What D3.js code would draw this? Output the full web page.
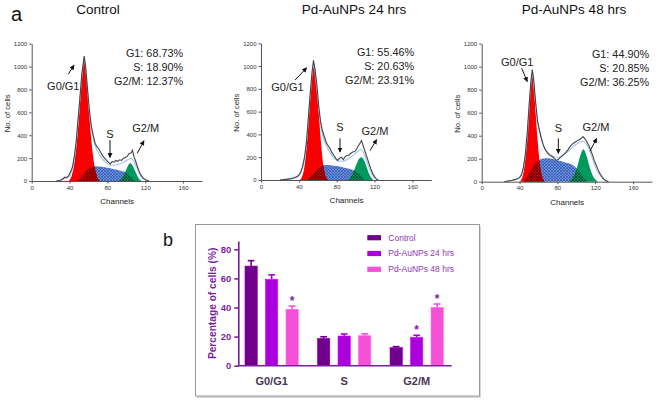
<!DOCTYPE html>
<html lang="en">
<head>
<meta charset="UTF-8">
<title>Cell cycle analysis</title>
<style>
    body, html {
        margin: 0;
        padding: 0;
        background: #ffffff;
        overflow: hidden;
    }
    svg {
        font-family: "Liberation Sans", Arial, sans-serif;
    }
    .hist .tick text {
        font-size: 6px;
        fill: #333;
    }
    .hist .domain, .hist .tick line {
        stroke: #555;
    }
    .stat {
        font-size: 10.8px;
        fill: #222;
        text-anchor: end;
    }
    .note {
        font-size: 11px;
        fill: #222;
        text-anchor: middle;
    }
    .bars .tick text {
        font-size: 9.5px;
        font-weight: bold;
        fill: #7b1fa2;
    }
    .bars .domain, .bars .tick line {
        stroke: #7b1fa2;
        stroke-width: 1.6px;
    }
</style>
</head>
<body>
<div id="chart"></div>
<script src="https://cdn.jsdelivr.net/npm/d3@7"></script>
<script>
// ---- panel a: histogram data (channel, number of cells) ----
const channelTicks = [0, 40, 80, 120, 160];
const countTicks = [0, 200, 400, 600, 800, 1000, 1200];
const panelTitles = ["Control", "Pd-AuNPs 24 hrs", "Pd-AuNPs 48 hrs"];
const g1Text = ["G1: 68.73%", "G1: 55.46%", "G1: 44.90%"];
const sText = ["S: 18.90%", "S: 20.63%", "S: 20.85%"];
const g2Text = ["G2/M: 12.37%", "G2/M: 23.91%", "G2/M: 36.25%"];

const ctrlG1 = [[39,0],[42,40],[45,150],[48,360],[50.5,620],[53,900],[55.5,1070],[58,900],[60.5,620],[63,360],[66,150],[69,40],[72,0]];
const ctrlS = [[48,0],[52,30],[56,70],[60,105],[64,125],[68,130],[74,125],[80,115],[86,105],[92,95],[98,80],[102,60],[106,30],[110,0]];
const ctrlG2 = [[92,0],[95,20],[98,60],[101,120],[104,155],[107,130],[110,75],[113,25],[116,0]];
const ctrlTotal = [[26,0],[30,5],[33,20],[35,35],[37,30],[39,45],[41,80],[43,120],[45,210],[47,340],[49,540],[51,730],[53,940],[55.5,1092],[57,1000],[59,800],[61,620],[63,480],[65,400],[67,330],[69,300],[71,280],[73,250],[75,220],[77,200],[79,180],[81,165],[83,150],[85,170],[87,165],[89,180],[91,172],[93,185],[95,180],[97,200],[99,205],[101,215],[103,240],[105,245],[106.5,268],[108,215],[110,170],[112,120],[114,75],[116,45],[118,25],[121,8],[124,0]];
const ctrlFit = [[26,0],[32,10],[36,25],[40,45],[43,110],[46,270],[49,520],[52,820],[55.5,1060],[58,900],[61,600],[64,420],[67,310],[70,255],[74,200],[78,165],[82,140],[86,138],[90,142],[94,152],[98,168],[102,188],[105,198],[108,172],[111,120],[114,65],[117,28],[120,8],[123,0]];

const h24G1 = [[41,0],[43.5,30],[46,120],[48.5,320],[51,600],[53.5,870],[56,995],[58.5,870],[61,600],[63.5,320],[66,120],[68.5,30],[71,0]];
const h24S = [[48,0],[52,25],[56,60],[60,95],[64,120],[68,132],[74,130],[80,122],[86,112],[92,100],[98,85],[102,65],[106,35],[110,0]];
const h24G2 = [[92,0],[95,25],[98,75],[101,140],[103.5,185],[106,200],[108.5,180],[111,130],[114,60],[117,15],[119,0]];
const h24Total = [[20,0],[24,4],[28,8],[32,12],[35,20],[38,30],[40,45],[42,70],[44,120],[46,200],[48,330],[50,540],[52,760],[54,950],[55.5,1050],[57,980],[59,840],[61,650],[63,510],[65,430],[67,380],[69,330],[71,300],[73,275],[75,240],[77,215],[79,190],[81,172],[83,190],[85,200],[87,180],[89,205],[91,215],[93,220],[95,235],[97,245],[99,250],[101,270],[103,300],[104.5,320],[106.3,345],[108,300],[110,250],[112,200],[114,150],[116,100],[118,60],[120,30],[122,10],[124,0]];
const h24Fit = [[20,0],[28,5],[35,15],[40,35],[44,110],[48,320],[52,740],[55.5,1010],[59,800],[62,560],[65,400],[68,320],[71,270],[74,225],[78,185],[82,165],[86,165],[90,175],[94,195],[98,220],[102,250],[105,268],[108,245],[111,185],[114,115],[117,55],[120,18],[123,0]];

const h48G1 = [[40,0],[42.5,30],[45,120],[47.5,320],[50,600],[52,830],[53.5,925],[55,830],[57,600],[59.5,320],[62,120],[64.5,30],[67,0]];
const h48S = [[44,0],[48,40],[52,100],[56,150],[60,185],[64,200],[70,203],[76,195],[82,182],[88,168],[94,155],[100,120],[104,75],[108,30],[112,0]];
const h48G2 = [[92,0],[95,20],[98,60],[101,130],[104,220],[107.5,282],[111,220],[114,130],[117,60],[120,20],[123,0]];
const h48Total = [[24,0],[28,6],[32,12],[36,20],[40,35],[42,60],[44,120],[46,230],[48,410],[50,650],[52,870],[53.5,975],[55,885],[57,690],[59,530],[61,450],[63,380],[65,320],[67,280],[69,255],[71,235],[73,225],[75,215],[77,200],[79,185],[81,195],[83,210],[85,225],[87,240],[89,255],[91,275],[93,300],[95,320],[97,335],[99,345],[101,355],[103,365],[105,375],[107,392],[109,375],[111,350],[113,320],[115,280],[117,235],[119,185],[121,145],[123,105],[125,72],[127,45],[129,25],[131,10],[134,0]];
const h48Fit = [[24,0],[30,8],[36,18],[40,35],[44,110],[48,380],[52,850],[53.5,940],[56,760],[59,520],[62,400],[65,320],[68,275],[72,240],[76,220],[80,212],[84,220],[88,240],[92,268],[96,300],[100,325],[104,345],[107,352],[110,335],[113,290],[116,225],[119,155],[122,95],[126,45],[130,15],[134,0]];

// ---- panel b: bar chart data ----
const phases = ["G0/G1", "S", "G2/M"];
const groups = ["Control", "Pd-AuNPs 24 hrs", "Pd-AuNPs 48 hrs"];
const controlPct = [68.5, 18.8, 12.4];
const pd24Pct = [59.4, 20.4, 19.5];
const pd48Pct = [38.8, 20.6, 40.1];
const controlErr = [3.7, 1.1, 0.7];
const pd24Err = [3.0, 1.4, 1.4];
const pd48Err = [2.2, 1.3, 2.3];
const pd24Star = [false, false, true];
const pd48Star = [true, false, true];
const yTicks = [0, 20, 40, 60, 80];

const W = 656, H = 400;
const svg = d3.select("#chart").append("svg")
    .attr("width", W).attr("height", H);

const defs = svg.append("defs");
function hatch(id, bg, ink) {
    const p = defs.append("pattern").attr("id", id)
        .attr("patternUnits", "userSpaceOnUse")
        .attr("width", 3).attr("height", 3);
    p.append("rect").attr("width", 3).attr("height", 3).attr("fill", bg);
    p.append("path").attr("d", "M0,0L3,3M3,0L0,3").attr("stroke", ink).attr("stroke-width", 0.6);
}
hatch("hatchBlue", "#6990e0", "#2c4f9e");
hatch("hatchRed", "#c80000", "#3a0000");
hatch("hatchGreen", "#00905a", "#00331c");

defs.append("marker").attr("id", "arrow")
    .attr("viewBox", "0 0 10 10").attr("refX", 9).attr("refY", 5)
    .attr("markerWidth", 5).attr("markerHeight", 5).attr("orient", "auto")
    .append("path").attr("d", "M0,0L10,5L0,10z").attr("fill", "#111");

svg.append("text").attr("x", 11).attr("y", 21)
    .style("font-size", "20px").attr("fill", "#111").text("a");

const panels = [
    { x0: 31.7, y0: 181, yTop: 43.7, titleX: 98, statX: 183, statY: 53,
      g1: ctrlG1, s: ctrlS, g2: ctrlG2, total: ctrlTotal, fit: ctrlFit,
      notes: { g1: [33.4, 829], g1a: [[38.7, 934], [44.7, 1012]],
               s: [82.8, 408], sa: [[82.8, 358], [82.8, 205]],
               g2: [120.5, 460], g2a: [[111.6, 242], [118.7, 352]] } },
    { x0: 261, y0: 180, yTop: 43.3, titleX: 354, statX: 414, statY: 52,
      g1: h24G1, s: h24S, g2: h24G2, total: h24Total, fit: h24Fit,
      notes: { g1: [28, 814], g1a: [[36.1, 878], [48.3, 986]],
               s: [83.5, 468], sa: [[83.5, 366], [83.5, 245]],
               g2: [120.5, 433], g2a: [[115.2, 258], [122.3, 355]] } },
    { x0: 481.7, y0: 181.7, yTop: 43.7, titleX: 574, statX: 649, statY: 54,
      g1: h48G1, s: h48S, g2: h48G2, total: h48Total, fit: h48Fit,
      notes: { g1: [37.6, 1043], g1a: [[42.3, 986], [48.2, 870]],
               s: [81, 464], sa: [[81, 377], [81, 245]],
               g2: [120.8, 478], g2a: [[114.5, 268], [121.6, 377]] } }
];

panels.forEach((p, i) => {
    const x = d3.scaleLinear().domain([0, 180]).range([p.x0, p.x0 + 180 * 0.946]);
    const y = d3.scaleLinear().domain([0, 1200]).range([p.y0, p.yTop]);
    const g = svg.append("g").attr("class", "hist");

    const area = d3.area().x(d => x(d[0])).y0(y(0)).y1(d => y(d[1])).curve(d3.curveMonotoneX);
    const line = d3.line().x(d => x(d[0])).y(d => y(d[1]));

    const clipG1 = "clipG1_" + i, clipG2 = "clipG2_" + i;
    defs.append("clipPath").attr("id", clipG1).append("path").attr("d", area(p.g1));
    defs.append("clipPath").attr("id", clipG2).append("path").attr("d", area(p.g2));

    g.append("path").attr("d", area(p.s)).attr("fill", "url(#hatchBlue)");
    g.append("path").attr("d", area(p.g1)).attr("fill", "#f80000");
    g.append("path").attr("d", area(p.s)).attr("fill", "url(#hatchRed)").attr("clip-path", `url(#${clipG1})`);
    g.append("path").attr("d", area(p.g2)).attr("fill", "#009a5e");
    g.append("path").attr("d", area(p.s)).attr("fill", "url(#hatchGreen)").attr("clip-path", `url(#${clipG2})`);

    g.append("path").attr("d", line.curve(d3.curveMonotoneX)(p.fit))
        .attr("fill", "none").attr("stroke", "#9cc3f2").attr("stroke-width", 1.1);
    g.append("path").attr("d", line.curve(d3.curveLinear)(p.total))
        .attr("fill", "none").attr("stroke", "#444").attr("stroke-width", 1.1);

    g.append("g").attr("transform", `translate(0,${p.y0})`)
        .call(d3.axisBottom(x).tickValues(channelTicks).tickSize(2.5).tickPadding(2).tickSizeOuter(0));
    g.append("g").attr("transform", `translate(${p.x0},0)`)
        .call(d3.axisLeft(y).tickValues(countTicks).tickFormat(d3.format("d"))
            .tickSize(2.5).tickPadding(2).tickSizeOuter(0));

    g.append("text").attr("x", x(90.4)).attr("y", p.y0 + 23)
        .attr("text-anchor", "middle").style("font-size", "8px").attr("fill", "#222").text("Channels");
    g.append("text").attr("transform", `translate(${p.x0 - 24.5},${(p.y0 + p.yTop) / 2 + 1}) rotate(-90)`)
        .attr("text-anchor", "middle").attr("dy", "0.35em").style("font-size", "7.7px").attr("fill", "#222").text("No. of cells");

    svg.append("text").attr("x", p.titleX).attr("y", 14)
        .attr("text-anchor", "middle").style("font-size", "13.5px").attr("fill", "#111").text(panelTitles[i]);

    [g1Text[i], sText[i], g2Text[i]].forEach((t, k) => {
        g.append("text").attr("class", "stat").attr("x", p.statX).attr("y", p.statY + k * 14.3)
            .attr("dy", "0.35em").text(t);
    });

    const n = p.notes;
    [[n.g1, "G0/G1"], [n.s, "S"], [n.g2, "G2/M"]].forEach(([pos, t]) => {
        g.append("text").attr("class", "note").attr("x", x(pos[0])).attr("y", y(pos[1]))
            .attr("dy", "0.35em").text(t);
    });
    [n.g1a, n.sa, n.g2a].forEach(a => {
        g.append("line")
            .attr("x1", x(a[0][0])).attr("y1", y(a[0][1]))
            .attr("x2", x(a[1][0])).attr("y2", y(a[1][1]))
            .attr("stroke", "#111").attr("stroke-width", 1).attr("marker-end", "url(#arrow)");
    });
});

// ---- panel b ----
svg.append("rect").attr("x", 197).attr("y", 226).attr("width", 284).attr("height", 172)
    .attr("fill", "#d8d8d8");
svg.append("rect").attr("x", 195.5).attr("y", 224.5).attr("width", 284).attr("height", 171.5)
    .attr("fill", "#fff").attr("stroke", "#9a9a9a").attr("stroke-width", 1);

svg.append("text").attr("x", 163).attr("y", 245.5)
    .style("font-size", "18px").attr("fill", "#111").text("b");

const colors = ["#70008c", "#aa00dc", "#f550d7"];
const series = [
    { name: groups[0], vals: controlPct, errs: controlErr, stars: [false, false, false] },
    { name: groups[1], vals: pd24Pct, errs: pd24Err, stars: pd24Star },
    { name: groups[2], vals: pd48Pct, errs: pd48Err, stars: pd48Star }
];

const bx0 = d3.scaleBand().domain(phases).range([238.3, 450]).paddingInner(0.265).paddingOuter(0.092);
const bx1 = d3.scaleBand().domain(groups).range([0, bx0.bandwidth()]).paddingInner(0.4);
const by = d3.scaleLinear().domain([0, 85.7]).range([365.7, 241]);

const bars = svg.append("g").attr("class", "bars");

series.forEach((s, si) => {
    const sg = bars.append("g");
    phases.forEach((ph, pi) => {
        const bxl = bx0(ph) + bx1(s.name);
        const bw = bx1.bandwidth();
        const cx = bxl + bw / 2;
        const top = by(s.vals[pi]);
        const etop = by(s.vals[pi] + s.errs[pi]);
        sg.append("line").attr("x1", cx).attr("x2", cx).attr("y1", top).attr("y2", etop)
            .attr("stroke", colors[si]).attr("stroke-width", 1.6);
        sg.append("line").attr("x1", cx - 3.4).attr("x2", cx + 3.4).attr("y1", etop).attr("y2", etop)
            .attr("stroke", colors[si]).attr("stroke-width", 1.6);
        sg.append("rect").attr("x", bxl).attr("y", top)
            .attr("width", bw).attr("height", by(0) - top)
            .attr("fill", colors[si]).attr("stroke", d3.color(colors[si]).brighter(0.8)).attr("stroke-width", 0.6);
        if (s.stars[pi]) {
            sg.append("text").attr("x", cx).attr("y", etop - 1.5)
                .attr("text-anchor", "middle").style("font-size", "12px").style("font-weight", "bold")
                .attr("fill", "#7b1fa2").text("*");
        }
    });
});

bars.append("g").attr("transform", "translate(238.3,0)")
    .call(d3.axisLeft(by).tickValues(yTicks).tickSize(4).tickPadding(3).tickSizeOuter(0));
bars.append("line").attr("x1", 237.5).attr("x2", 451.7).attr("y1", by(0)).attr("y2", by(0))
    .attr("stroke", "#7b1fa2").attr("stroke-width", 1.6);

phases.forEach(ph => {
    bars.append("text").attr("x", bx0(ph) + bx0.bandwidth() / 2).attr("y", 385)
        .attr("text-anchor", "middle").style("font-size", "11px").style("font-weight", "bold")
        .attr("fill", "#4b3658").text(ph);
});

bars.append("text").attr("transform", `translate(212,${(by(0) + by(85.7)) / 2}) rotate(-90)`)
    .attr("text-anchor", "middle").attr("dy", "0.35em")
    .style("font-size", "10.2px").style("font-weight", "bold").attr("fill", "#7b1fa2")
    .text("Percentage of cells (%)");

const legend = bars.append("g");
groups.forEach((gname, gi) => {
    const ly = 237.7 + gi * 15.8;
    legend.append("rect").attr("x", 367.3).attr("y", ly - 2.6).attr("width", 13.7).attr("height", 5.2)
        .attr("fill", colors[gi]);
    legend.append("text").attr("x", 388.3).attr("y", ly).attr("dy", "0.35em")
        .style("font-size", "8.5px").attr("fill", "#9436b0").text(gname);
});
</script>
</body>
</html>
